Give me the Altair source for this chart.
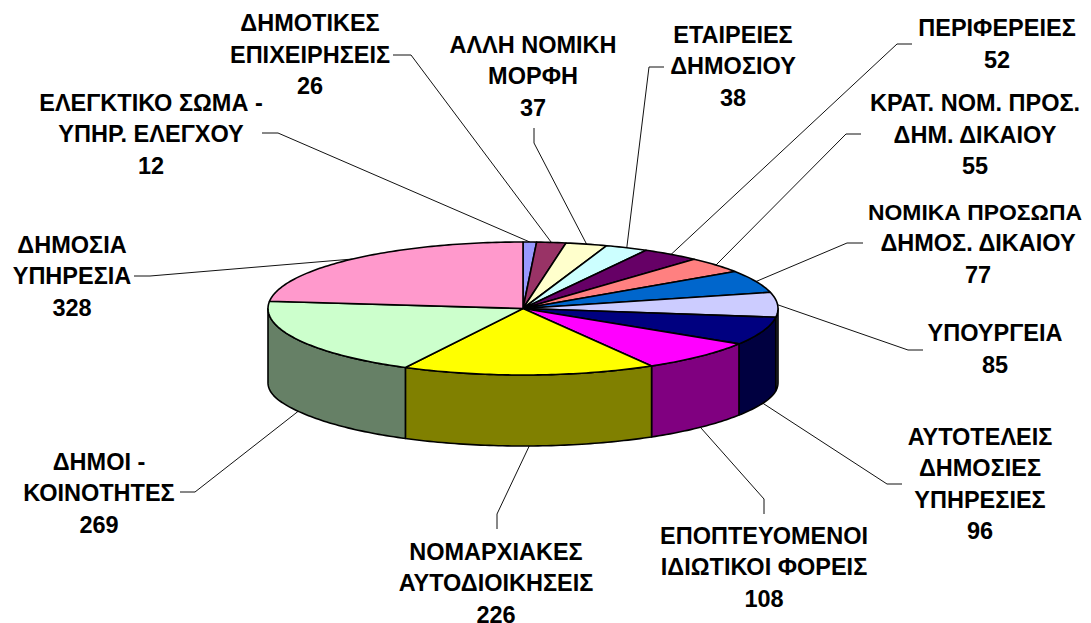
import math
import altair as alt
import pandas as pd

# --- values (clockwise from 12 o'clock)
names = ["ΕΛΕΓΚΤΙΚΟ ΣΩΜΑ -|ΥΠΗΡ. ΕΛΕΓΧΟΥ", "ΔΗΜΟΤΙΚΕΣ|ΕΠΙΧΕΙΡΗΣΕΙΣ", "ΑΛΛΗ ΝΟΜΙΚΗ|ΜΟΡΦΗ",
         "ΕΤΑΙΡΕΙΕΣ|ΔΗΜΟΣΙΟΥ", "ΠΕΡΙΦΕΡΕΙΕΣ", "ΚΡΑΤ. ΝΟΜ. ΠΡΟΣ.|ΔΗΜ. ΔΙΚΑΙΟΥ",
         "ΝΟΜΙΚΑ ΠΡΟΣΩΠΑ|ΔΗΜΟΣ. ΔΙΚΑΙΟΥ", "ΥΠΟΥΡΓΕΙΑ", "ΑΥΤΟΤΕΛΕΙΣ|ΔΗΜΟΣΙΕΣ|ΥΠΗΡΕΣΙΕΣ",
         "ΕΠΟΠΤΕΥΟΜΕΝΟΙ|ΙΔΙΩΤΙΚΟΙ ΦΟΡΕΙΣ", "ΝΟΜΑΡΧΙΑΚΕΣ|ΑΥΤΟΔΙΟΙΚΗΣΕΙΣ", "ΔΗΜΟΙ -|ΚΟΙΝΟΤΗΤΕΣ",
         "ΔΗΜΟΣΙΑ|ΥΠΗΡΕΣΙΑ"]
values = [12, 26, 37, 38, 52, 55, 77, 85, 96, 108, 226, 269, 328]
top_colors = ["#9999FF", "#993366", "#FFFFCC", "#CCFFFF", "#660066", "#FF8080", "#0066CC",
              "#CCCCFF", "#000080", "#FF00FF", "#FFFF00", "#CCFFCC", "#FF99CC"]
side_colors = ["#4D4D80", "#4D1A33", "#808066", "#668080", "#330033", "#804040", "#003366",
               "#666680", "#000040", "#800080", "#808000", "#668066", "#804D66"]

# --- layout (page pixels)
label_x = [151, 310, 533, 733, 997, 975, 978, 995, 980, 764, 496, 99, 72]
label_y = [103.5, 24, 45.5, 35.5, 29, 104, 212.5, 334, 437.5, 536.5, 552.5, 462.5, 245.5]
line_gap = 31.6
leader_start = [(262, 133), (393, 55), (534, 128), (664, 67), (912, 44), (861, 134), (863, 243),
                (923, 350), (902, 484), (764, 514), (497, 529), (180, 492), (134, 276)]
leader_elbow = [(278, 133), (411, 55), (534, 143), (649, 67), (897, 44), (846, 134), (847, 243),
                (908, 350), (887, 484), (764, 499), (497, 514), (195, 492), (150, 276)]
CX, CY, RX, RY, DEPTH, DEPTH_EXTRA = 523, 308.5, 255, 66.5, 71, 3
OFF = 8
W, H = 1075, 615
FONT = "Liberation Sans"
FONT_SIZE = 23.5
# the widest line has to stay inside the page: (x, font size)
line_fit = {"ΝΟΜΙΚΑ ΠΡΟΣΩΠΑ": (975, 22.9)}


def wall_drop(deg):
    return DEPTH + DEPTH_EXTRA * math.sin(math.radians(deg)) ** 16


def pt(deg, drop=0.0):
    r = math.radians(deg)
    return [CX + RX * math.sin(r) - OFF, CY - RY * math.cos(r) + drop - OFF]


def arc(a0, a1, wall=False):
    n = max(2, int(abs(a1 - a0)) + 2)
    out = []
    for i in range(n):
        a = a0 + (a1 - a0) * i / (n - 1)
        out.append(pt(a, wall_drop(a) if wall else 0.0))
    return out


total = sum(values)
tops, walls, leaders, texts = [], [], [], []
cum = 0
for i, v in enumerate(values):
    a0, a1 = cum / total * 360, (cum + v) / total * 360
    mid = (a0 + a1) / 2
    cum += v
    ring = [[CX - OFF, CY - OFF]] + arc(a0, a1) + [[CX - OFF, CY - OFF]]
    tops.append({"type": "Feature", "properties": {"fill": top_colors[i]},
                 "geometry": {"type": "Polygon", "coordinates": [ring]}})
    w0, w1 = max(a0, 90), min(a1, 270)
    if w1 > w0:
        wring = arc(w0, w1) + arc(w1, w0, wall=True)
        wring.append(wring[0])
        walls.append({"type": "Feature", "properties": {"fill": side_colors[i]},
                      "geometry": {"type": "Polygon", "coordinates": [wring]}})
    front = 90 < mid < 270
    anchor = pt(mid, wall_drop(mid) if front else 0)
    route = [[leader_start[i][0] - OFF, leader_start[i][1] - OFF],
             [leader_elbow[i][0] - OFF, leader_elbow[i][1] - OFF], anchor]
    for k, (px, py) in enumerate(route):
        leaders.append({"id": i, "k": k, "x": px, "y": py})
    lines = names[i].split("|") + [str(v)]
    for k, s in enumerate(lines):
        lx, fs = line_fit.get(s, (label_x[i], FONT_SIZE))
        texts.append({"t": s, "x": lx - OFF, "y": label_y[i] + k * line_gap - OFF, "fs": fs})

sx = alt.Scale(domain=[0, W], range=[0, W])
sy = alt.Scale(domain=[0, H], range=[0, H])
proj = alt.Projection(type="identity", scale=1, translate=[0, 0])


def shapes(features):
    return alt.Chart(alt.Data(values=features)).mark_geoshape(
        stroke="black", strokeWidth=1.6, strokeJoin="round"
    ).encode(fill=alt.Fill("properties.fill:N", scale=None)).project(**proj.to_dict())


wall_layer = shapes(walls)
top_layer = shapes(tops)

leader_layer = alt.Chart(pd.DataFrame(leaders)).mark_line(
    color="#111111", strokeWidth=1, interpolate="linear"
).encode(
    x=alt.X("x:Q", scale=sx, axis=None),
    y=alt.Y("y:Q", scale=sy, axis=None),
    detail="id:N",
    order="k:Q",
)

text_layer = alt.Chart(pd.DataFrame(texts)).mark_text(
    font=FONT, fontWeight="bold", color="black", align="center", baseline="middle"
).encode(
    x=alt.X("x:Q", scale=sx, axis=None),
    y=alt.Y("y:Q", scale=sy, axis=None),
    text="t:N",
    size=alt.Size("fs:Q", scale=None, legend=None),
)

chart = alt.layer(leader_layer, wall_layer, top_layer, text_layer).properties(
    width=W, height=H, padding=0, autosize=alt.AutoSizeParams(type="none"),
    background="white",
).configure_view(stroke=None)

chart.save("out.html", embed_options={"renderer": "svg", "actions": False})
